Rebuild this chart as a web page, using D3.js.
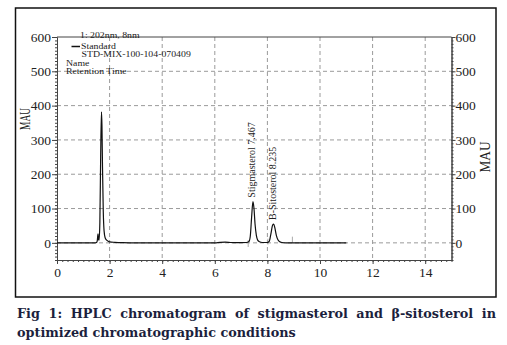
<!DOCTYPE html>
<html>
<head>
<meta charset="utf-8">
<script src="https://cdn.jsdelivr.net/npm/d3@7"></script>
<style>
  html, body { margin: 0; padding: 0; background: #fff; }
  svg { display: block; }
</style>
</head>
<body>
<svg id="chart" width="507" height="345"></svg>
<script>
// ---- data ----
const timeMin = [0, 1.45, 1.50, 1.53, 1.56, 1.58, 1.60, 1.63, 1.66, 1.69, 1.71, 1.73, 1.76, 1.79, 1.83, 1.90, 2.00, 2.20, 2.50, 3.00, 6.00, 6.20, 6.40, 6.60, 6.80, 7.20, 7.30, 7.35, 7.40, 7.45, 7.49, 7.53, 7.58, 7.63, 7.70, 7.80, 8.00, 8.07, 8.13, 8.20, 8.24, 8.28, 8.34, 8.40, 8.47, 8.55, 8.70, 11.0];
const absMAU  = [0, 0,    1,    6,    26,   10,   8,    60,   250,  382,  340,  220,  90,   35,   15,   7,    3,    1.5,  0.5,  0,    0,    1.5,  2,    1,    0.5,  1,    4,    20,   75,   120,  100,  55,   22,   8,    3,    1,    1,    4,    25,   52,   55,   45,   22,   9,    3,    1,    0,    0];
const markerTimes = [7.27, 8.02, 8.95];
const markerLow   = [-12, -5, 0];
const markerHigh  = [8, 12, 18];
const peakNames = ["Stigmasterol 7.467", "B-Sitosterol 8.235"];
const peakTimes = [7.467, 8.235];
const peakHeights = [120, 55];
const xTicks = [0, 2, 4, 6, 8, 10, 12, 14];
const yTicks = [0, 100, 200, 300, 400, 500, 600];
const legendLines = ["1: 202nm, 8nm", "Standard", "STD-MIX-100-104-070409", "Name", "Retention Time"];
const axisLabel = "MAU";
const captionLines = ["Fig 1: HPLC chromatogram of stigmasterol and \u03b2-sitosterol in", "optimized chromatographic conditions"];

// ---- layout ----
const svg = d3.select("#chart");
const L = 57, R = 451.5, T = 37, B = 260;
const x = d3.scaleLinear().domain([0, 15]).range([L, R]);
const y = d3.scaleLinear().domain([-50, 600]).range([B, T]);
const serif = "'Liberation Serif', 'Times New Roman', serif";

// outer frame
svg.append("rect").attr("x", 15.5).attr("y", 8).attr("width", 480.5).attr("height", 289)
  .attr("fill", "none").attr("stroke", "#111").attr("stroke-width", 1.5);

// grid
const grid = svg.append("g").attr("stroke", "#9a9a9a").attr("stroke-width", 1).attr("stroke-dasharray", "4,3");
grid.selectAll("line.h").data(yTicks.filter(v => v < 600)).join("line")
  .attr("x1", L).attr("x2", R).attr("y1", d => y(d)).attr("y2", d => y(d));
grid.selectAll("line.v").data(xTicks.filter(v => v > 0)).join("line")
  .attr("y1", T).attr("y2", B).attr("x1", d => x(d)).attr("x2", d => x(d));

// axes
const axisColor = "#444";
function styleAxis(g) {
  g.attr("font-family", serif).attr("font-size", 13.5);
  g.select(".domain").attr("stroke", axisColor).attr("stroke-width", 1);
  g.selectAll(".tick line").attr("stroke", axisColor);
  g.selectAll(".tick text").attr("fill", "#222").style("font-family", serif).style("font-size", "13.5px");
}
// minor ticks
const yMinor = d3.range(-50, 601, 10);
const xMinor = d3.range(0, 15.01, 0.2);
svg.append("g").attr("transform", `translate(${L},0)`)
  .call(d3.axisLeft(y).tickValues(yMinor).tickSize(2).tickFormat("").tickSizeOuter(0))
  .call(styleAxis);
svg.append("g").attr("transform", `translate(${R},0)`)
  .call(d3.axisRight(y).tickValues(yMinor).tickSize(2).tickFormat("").tickSizeOuter(0))
  .call(styleAxis);
svg.append("g").attr("transform", `translate(0,${B})`)
  .call(d3.axisBottom(x).tickValues(xMinor).tickSize(2).tickFormat("").tickSizeOuter(0))
  .call(styleAxis);
// major ticks
svg.append("g").attr("transform", `translate(${L},0)`)
  .call(d3.axisLeft(y).tickValues(yTicks).tickSize(5).tickPadding(1).tickSizeOuter(0))
  .call(styleAxis);
svg.append("g").attr("transform", `translate(${R},0)`)
  .call(d3.axisRight(y).tickValues(yTicks).tickSize(4).tickPadding(0).tickSizeOuter(0))
  .call(styleAxis);
svg.append("g").attr("transform", `translate(0,${B})`)
  .call(d3.axisBottom(x).tickValues(xTicks).tickSize(4).tickPadding(3).tickSizeOuter(0))
  .call(styleAxis);
// top border
svg.append("line").attr("x1", L).attr("x2", R).attr("y1", T).attr("y2", T)
  .attr("stroke", axisColor).attr("stroke-width", 1);

// axis titles
svg.append("text").attr("transform", "translate(30,119) rotate(-90)")
  .attr("text-anchor", "middle").attr("fill", "#222")
  .style("font-family", serif).style("font-size", "14px")
  .attr("textLength", 22).attr("lengthAdjust", "spacingAndGlyphs").text(axisLabel);
svg.append("text").attr("transform", "translate(490,157) rotate(-90)")
  .attr("text-anchor", "middle").attr("fill", "#222")
  .style("font-family", serif).style("font-size", "15px")
  .attr("textLength", 31).attr("lengthAdjust", "spacingAndGlyphs").text(axisLabel);

// integration markers
svg.append("g").selectAll("line").data(markerTimes).join("line")
  .attr("x1", d => x(d)).attr("x2", d => x(d))
  .attr("y1", (d, i) => y(markerLow[i])).attr("y2", (d, i) => y(markerHigh[i]))
  .attr("stroke", "#aaa").attr("stroke-width", 1);

// trace
const pts = timeMin.map((t, i) => [t, absMAU[i]]);
svg.append("path").datum(pts)
  .attr("fill", "none").attr("stroke", "#111").attr("stroke-width", 1.2)
  .attr("d", d3.line().x(d => x(d[0])).y(d => y(d[1])).curve(d3.curveMonotoneX));

// peak labels
svg.append("g").selectAll("text").data(peakNames).join("text")
  .attr("transform", (d, i) => `translate(${x(peakTimes[i]) + 2},${y(peakHeights[i]) - 4}) rotate(-90)`)
  .attr("fill", "#222").style("font-family", serif).style("font-size", "10px")
  .text(d => d);

// legend (text squeezed vertically as in the reference)
const legY = [38, 48.5, 57, 65.5, 74];
const legX = [80, 81, 81.5, 66, 66];
svg.append("g").selectAll("text").data(legendLines).join("text")
  .attr("transform", (d, i) => `translate(${legX[i]},${legY[i]}) scale(1,0.74)`)
  .attr("fill", "#222").style("font-family", serif).style("font-size", "9.8px")
  .text(d => d);
svg.append("line").attr("x1", 71.5).attr("x2", 80).attr("y1", 46.5).attr("y2", 46.5)
  .attr("stroke", "#111").attr("stroke-width", 1.5);

// caption
const capFont = "'DejaVu Serif', serif";
const cap2 = svg.append("text").attr("x", 17).attr("y", 337).attr("fill", "#1c1f3d")
  .style("font-family", capFont).style("font-weight", "bold").style("font-size", "13px").text(captionLines[1]);
const w2 = cap2.node().getComputedTextLength();
const fs = 13 * 279 / w2;
cap2.style("font-size", fs + "px");
const cap1 = svg.append("text").attr("x", 17).attr("y", 318).attr("fill", "#1c1f3d")
  .style("font-family", capFont).style("font-weight", "bold").style("font-size", fs + "px").text(captionLines[0]);
const w1 = cap1.node().getComputedTextLength();
const nSpaces = captionLines[0].split(" ").length - 1;
cap1.style("word-spacing", ((479 - w1) / nSpaces) + "px");
</script>
</body>
</html>
